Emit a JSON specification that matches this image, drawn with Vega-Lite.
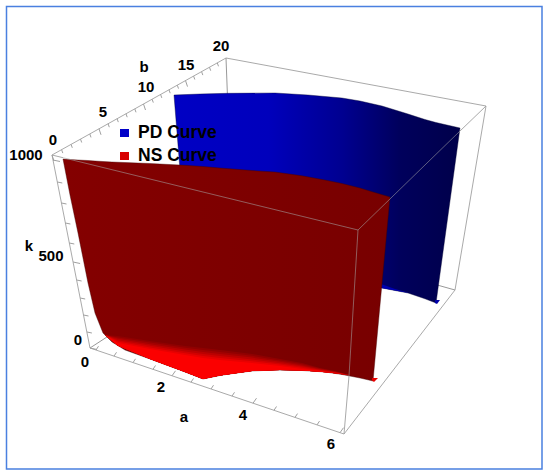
{"$schema":"https://vega.github.io/schema/vega-lite/v6.json","width":550,"height":475,"padding":0,"autosize":{"type":"fit","contains":"padding"},"background":"white","view":{"stroke":null},
"config":{"axis":{"domain":false}},
"datasets":{
"backEdges":[{"u":226,"v":58,"u2":228,"v2":110},{"u":90,"v":348,"u2":110,"v2":335},{"u":455,"v":290,"u2":430,"v2":283}],
"blue":[{"u":174,"top":95,"bot":95},{"u":180,"top":94.8,"bot":170},{"u":200,"top":94,"bot":182},{"u":228,"top":93.3,"bot":198},{"u":275,"top":93,"bot":225},{"u":308,"top":95,"bot":245},{"u":342,"top":98,"bot":265},{"u":360,"top":101,"bot":275},{"u":382,"top":106,"bot":288},{"u":408,"top":114,"bot":293},{"u":425,"top":119.5,"bot":298.8},{"u":436,"top":122.5,"bot":303},{"u":460,"top":128,"bot":128}],
"blueGlow":[{"u":381,"top":284,"bot":288,"band":"g1"},{"u":395,"top":289,"bot":290.5,"band":"g1"},{"u":408,"top":292.5,"bot":292.8,"band":"g1"},{"u":435,"top":300,"bot":303,"band":"g2"},{"u":437,"top":300,"bot":304,"band":"g2"},{"u":440,"top":300,"bot":300,"band":"g2"}],
"red":[{"u":63,"top":159,"bot":159},{"u":70,"top":159.5,"bot":195},{"u":78,"top":160,"bot":233},{"u":88,"top":160.5,"bot":283},{"u":95,"top":161,"bot":313},{"u":103,"top":161.5,"bot":333},{"u":112,"top":162,"bot":342},{"u":125,"top":162.5,"bot":350},{"u":150,"top":163.5,"bot":359},{"u":185,"top":165.3,"bot":372},{"u":203,"top":166.5,"bot":379},{"u":220,"top":168,"bot":375.5},{"u":233,"top":169,"bot":373.5},{"u":252,"top":170.5,"bot":371},{"u":275,"top":172,"bot":370},{"u":302,"top":175.8,"bot":370.5},{"u":325,"top":180,"bot":372},{"u":342,"top":183.5,"bot":374.5},{"u":360,"top":188,"bot":378},{"u":373,"top":192,"bot":381},{"u":390,"top":197,"bot":197}],
"redGlow":[
{"u":105,"top":335,"bot":335,"band":"b1"},{"u":118,"top":336,"bot":345.7,"band":"b1"},{"u":150,"top":341,"bot":359,"band":"b1"},{"u":185,"top":346,"bot":372,"band":"b1"},{"u":203,"top":348,"bot":379,"band":"b1"},{"u":220,"top":350,"bot":375.5,"band":"b1"},{"u":252,"top":354,"bot":371,"band":"b1"},{"u":280,"top":359,"bot":370,"band":"b1"},{"u":302,"top":363,"bot":370.5,"band":"b1"},{"u":320,"top":368,"bot":371.7,"band":"b1"},{"u":335,"top":371,"bot":373.3,"band":"b1"},{"u":350,"top":375.3,"bot":375.3,"band":"b1"},
{"u":105,"top":335,"bot":335,"band":"b2"},{"u":118,"top":337.4,"bot":345.7,"band":"b2"},{"u":150,"top":342.6,"bot":359,"band":"b2"},{"u":185,"top":347.8,"bot":372,"band":"b2"},{"u":203,"top":350,"bot":379,"band":"b2"},{"u":220,"top":352,"bot":375.5,"band":"b2"},{"u":252,"top":355.8,"bot":371,"band":"b2"},{"u":280,"top":360.4,"bot":370,"band":"b2"},{"u":302,"top":364.2,"bot":370.5,"band":"b2"},{"u":320,"top":368.6,"bot":371.7,"band":"b2"},{"u":335,"top":371.4,"bot":373.3,"band":"b2"},{"u":350,"top":375.3,"bot":375.3,"band":"b2"},
{"u":105,"top":335,"bot":335,"band":"b3"},{"u":118,"top":338.8,"bot":345.7,"band":"b3"},{"u":150,"top":344.2,"bot":359,"band":"b3"},{"u":185,"top":349.6,"bot":372,"band":"b3"},{"u":203,"top":352,"bot":379,"band":"b3"},{"u":220,"top":354,"bot":375.5,"band":"b3"},{"u":252,"top":357.6,"bot":371,"band":"b3"},{"u":280,"top":361.8,"bot":370,"band":"b3"},{"u":302,"top":365.4,"bot":370.5,"band":"b3"},{"u":320,"top":369.2,"bot":371.7,"band":"b3"},{"u":335,"top":371.8,"bot":373.3,"band":"b3"},{"u":350,"top":375.3,"bot":375.3,"band":"b3"},
{"u":105,"top":335,"bot":335,"band":"b4"},{"u":118,"top":340.2,"bot":345.7,"band":"b4"},{"u":150,"top":345.8,"bot":359,"band":"b4"},{"u":185,"top":351.4,"bot":372,"band":"b4"},{"u":203,"top":354,"bot":379,"band":"b4"},{"u":220,"top":356,"bot":375.5,"band":"b4"},{"u":252,"top":359.4,"bot":371,"band":"b4"},{"u":280,"top":363.2,"bot":370,"band":"b4"},{"u":302,"top":366.6,"bot":370.5,"band":"b4"},{"u":320,"top":369.8,"bot":371.7,"band":"b4"},{"u":335,"top":372.2,"bot":373.3,"band":"b4"},{"u":350,"top":375.3,"bot":375.3,"band":"b4"},
{"u":105,"top":335,"bot":335,"band":"b5"},{"u":118,"top":341.6,"bot":345.7,"band":"b5"},{"u":150,"top":347.4,"bot":359,"band":"b5"},{"u":185,"top":353.2,"bot":372,"band":"b5"},{"u":203,"top":356,"bot":379,"band":"b5"},{"u":220,"top":358,"bot":375.5,"band":"b5"},{"u":252,"top":361.2,"bot":371,"band":"b5"},{"u":280,"top":364.6,"bot":370,"band":"b5"},{"u":302,"top":367.8,"bot":370.5,"band":"b5"},{"u":320,"top":370.4,"bot":371.7,"band":"b5"},{"u":335,"top":372.6,"bot":373.3,"band":"b5"},{"u":350,"top":375.3,"bot":375.3,"band":"b5"},
{"u":105,"top":335,"bot":335,"band":"b6"},{"u":118,"top":343,"bot":345.7,"band":"b6"},{"u":150,"top":349,"bot":359,"band":"b6"},{"u":185,"top":355,"bot":372,"band":"b6"},{"u":203,"top":358,"bot":379,"band":"b6"},{"u":220,"top":360,"bot":375.5,"band":"b6"},{"u":252,"top":363,"bot":371,"band":"b6"},{"u":280,"top":366,"bot":370,"band":"b6"},{"u":302,"top":369,"bot":370.5,"band":"b6"},{"u":320,"top":371,"bot":371.7,"band":"b6"},{"u":335,"top":373,"bot":373.3,"band":"b6"},{"u":350,"top":375.3,"bot":375.3,"band":"b6"},
{"u":372,"top":378,"bot":380.5,"band":"b7"},{"u":374,"top":378,"bot":382,"band":"b7"},{"u":378,"top":378,"bot":378,"band":"b7"}
],
"frontEdges":[{"u":52,"v":155,"u2":226,"v2":58},{"u":226,"v":58,"u2":486,"v2":106},{"u":486,"v":106,"u2":460,"v2":131},{"u":52,"v":155,"u2":63,"v2":157.7},{"u":52,"v":155,"u2":90,"v2":348},{"u":90,"v":348,"u2":344,"v2":434},{"u":344,"v":434,"u2":455,"v2":290},{"u":455,"v":290,"u2":486,"v2":106},{"u":349,"v":376,"u2":344,"v2":434}],
"surfaceEdges":[{"u":460,"v":131,"u2":358,"v2":230},{"u":358,"v":230,"u2":63,"v2":157.7},{"u":358,"v":230,"u2":349,"v2":376}],
"ticks":[
{"u":52,"v":155,"u2":54,"v2":161},{"u":61.6,"v":149.7,"u2":62.8,"v2":153.1},{"u":71.1,"v":144.4,"u2":72.3,"v2":147.8},{"u":80.5,"v":139.1,"u2":81.7,"v2":142.5},{"u":89.8,"v":134,"u2":91,"v2":137.4},{"u":99,"v":128.8,"u2":101,"v2":134.8},{"u":108.1,"v":123.8,"u2":109.3,"v2":127.2},{"u":117.1,"v":118.7,"u2":118.3,"v2":122.1},{"u":126,"v":113.8,"u2":127.2,"v2":117.2},{"u":134.8,"v":108.9,"u2":136,"v2":112.3},{"u":143.5,"v":104,"u2":145.5,"v2":110},{"u":152.1,"v":99.2,"u2":153.3,"v2":102.6},{"u":160.6,"v":94.5,"u2":161.8,"v2":97.9},{"u":169,"v":89.8,"u2":170.2,"v2":93.2},{"u":177.3,"v":85.2,"u2":178.5,"v2":88.6},{"u":185.5,"v":80.6,"u2":187.5,"v2":86.6},{"u":193.6,"v":76.1,"u2":194.8,"v2":79.5},{"u":201.6,"v":71.7,"u2":202.8,"v2":75.1},{"u":209.5,"v":67.3,"u2":210.7,"v2":70.7},{"u":217.3,"v":62.9,"u2":218.5,"v2":66.3},
{"u":53,"v":160,"u2":60,"v2":161.5},{"u":57.3,"v":182,"u2":62.3,"v2":183},{"u":61.5,"v":203,"u2":66.5,"v2":204},{"u":65.4,"v":223,"u2":70.4,"v2":224},{"u":69.3,"v":243,"u2":74.3,"v2":244},{"u":73.1,"v":262,"u2":80.1,"v2":263.5},{"u":76.6,"v":280,"u2":81.6,"v2":281},{"u":80.2,"v":298,"u2":85.2,"v2":299},{"u":83.5,"v":315,"u2":88.5,"v2":316},{"u":86.9,"v":332,"u2":91.9,"v2":333},{"u":90,"v":348,"u2":97,"v2":349.5},
{"u":96,"v":350,"u2":98.5,"v2":346.2},{"u":114,"v":356.1,"u2":116.5,"v2":352.3},{"u":133,"v":362.6,"u2":135.5,"v2":358.8},{"u":153,"v":369.3,"u2":155.5,"v2":365.5},{"u":172,"v":375.8,"u2":175.5,"v2":370.8},{"u":191,"v":382.2,"u2":193.5,"v2":378.4},{"u":211,"v":389,"u2":213.5,"v2":385.2},{"u":232,"v":396.1,"u2":234.5,"v2":392.3},{"u":253,"v":403.2,"u2":256.5,"v2":398.2},{"u":274,"v":410.3,"u2":276.5,"v2":406.5},{"u":295,"v":417.4,"u2":297.5,"v2":413.6},{"u":317,"v":424.9,"u2":319.5,"v2":421.1},{"u":340,"v":432.7,"u2":343.5,"v2":427.7}
],
"labels":[{"u":221,"v":46,"t":"20"},{"u":186,"v":65,"t":"15"},{"u":146,"v":87,"t":"10"},{"u":103,"v":112,"t":"5"},{"u":53,"v":140,"t":"0"},{"u":144,"v":67,"t":"b"},{"u":26,"v":155,"t":"1000"},{"u":29,"v":246,"t":"k"},{"u":51,"v":256,"t":"500"},{"u":78,"v":340,"t":"0"},{"u":85,"v":362,"t":"0"},{"u":161,"v":387,"t":"2"},{"u":184,"v":417,"t":"a"},{"u":243,"v":415,"t":"4"},{"u":331,"v":444,"t":"6"}],
"legend":[{"u":138,"v":133,"t":"PD Curve","u0":120,"u1":129,"v0":129,"v1":137,"series":"PD"},{"u":138,"v":155.5,"t":"NS Curve","u0":120,"u1":129,"v0":152,"v1":160,"series":"NS"}],
"frame":[{"u0":6.5,"u1":542,"v0":6.5,"v1":469}]
},
"layer":[
{"data":{"name":"frame"},"mark":{"type":"rect","fill":null,"stroke":"#4a80e0","strokeWidth":1.5},"encoding":{"x":{"field":"u0","type":"quantitative","scale":{"domain":[0,550],"nice":false,"zero":false},"axis":null},"x2":{"field":"u1"},"y":{"field":"v0","type":"quantitative","scale":{"domain":[475,0],"nice":false,"zero":false},"axis":null},"y2":{"field":"v1"}}},
{"data":{"name":"backEdges"},"mark":{"type":"rule","color":"#999999","strokeWidth":1},"encoding":{"x":{"field":"u","type":"quantitative"},"y":{"field":"v","type":"quantitative"},"x2":{"field":"u2"},"y2":{"field":"v2"}}},
{"data":{"name":"blue"},"mark":{"type":"area","stroke":"#000030","strokeWidth":0.4,"fill":{"gradient":"linear","x1":0,"y1":0,"x2":1,"y2":0,"stops":[{"offset":0,"color":"#0000c4"},{"offset":0.33,"color":"#0000bc"},{"offset":0.59,"color":"#000090"},{"offset":0.79,"color":"#00005c"},{"offset":1,"color":"#00004a"}]}},"encoding":{"x":{"field":"u","type":"quantitative"},"y":{"field":"top","type":"quantitative"},"y2":{"field":"bot"}}},
{"data":{"name":"blueGlow"},"mark":{"type":"area"},"encoding":{"x":{"field":"u","type":"quantitative"},"y":{"field":"top","type":"quantitative"},"y2":{"field":"bot"},"color":{"field":"band","type":"nominal","legend":null,"scale":{"domain":["g1","g2"],"range":["#0000b0","#0000a8"]}}}},
{"data":{"name":"red"},"mark":{"type":"area","stroke":"#400000","strokeWidth":0.4,"fill":{"gradient":"linear","x1":0,"y1":0,"x2":1,"y2":0,"stops":[{"offset":0,"color":"#840000"},{"offset":1,"color":"#780000"}]}},"encoding":{"x":{"field":"u","type":"quantitative"},"y":{"field":"top","type":"quantitative"},"y2":{"field":"bot"}}},
{"data":{"name":"redGlow"},"mark":{"type":"area"},"encoding":{"x":{"field":"u","type":"quantitative"},"y":{"field":"top","type":"quantitative"},"y2":{"field":"bot"},"color":{"field":"band","type":"nominal","legend":null,"scale":{"domain":["b1","b2","b3","b4","b5","b6","b7"],"range":["#900000","#a40000","#bb0000","#d20000","#e90000","#fb0000","#e80000"]}}}},
{"data":{"name":"surfaceEdges"},"mark":{"type":"rule","color":"#a8a8a8","strokeWidth":1,"opacity":0.55},"encoding":{"x":{"field":"u","type":"quantitative"},"y":{"field":"v","type":"quantitative"},"x2":{"field":"u2"},"y2":{"field":"v2"}}},
{"data":{"name":"frontEdges"},"mark":{"type":"rule","color":"#a0a0a0","strokeWidth":1,"opacity":0.9},"encoding":{"x":{"field":"u","type":"quantitative"},"y":{"field":"v","type":"quantitative"},"x2":{"field":"u2"},"y2":{"field":"v2"}}},
{"data":{"name":"ticks"},"mark":{"type":"rule","color":"#a0a0a0","strokeWidth":1},"encoding":{"x":{"field":"u","type":"quantitative"},"y":{"field":"v","type":"quantitative"},"x2":{"field":"u2"},"y2":{"field":"v2"}}},
{"data":{"name":"labels"},"mark":{"type":"text","font":"Liberation Sans","fontWeight":"bold","fontSize":15,"color":"#000000","align":"center","baseline":"middle"},"encoding":{"x":{"field":"u","type":"quantitative"},"y":{"field":"v","type":"quantitative"},"text":{"field":"t"}}},
{"data":{"name":"legend"},"mark":{"type":"rect"},"encoding":{"x":{"field":"u0","type":"quantitative"},"x2":{"field":"u1"},"y":{"field":"v0","type":"quantitative"},"y2":{"field":"v1"},"color":{"field":"series","type":"nominal","legend":null,"scale":{"domain":["PD","NS"],"range":["#0000c8","#d80000"]}}}},
{"data":{"name":"legend"},"mark":{"type":"text","font":"Liberation Sans","fontWeight":"bold","fontSize":17.5,"color":"#000000","align":"left","baseline":"middle"},"encoding":{"x":{"field":"u","type":"quantitative"},"y":{"field":"v","type":"quantitative"},"text":{"field":"t"}}}
],
"resolve":{"scale":{"color":"independent"}}
}
